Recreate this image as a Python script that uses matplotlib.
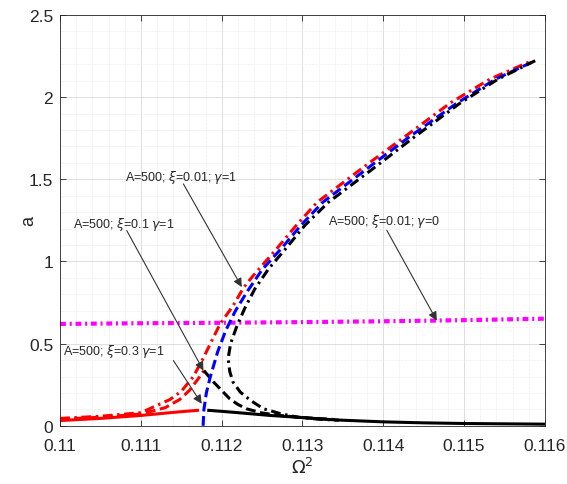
import numpy as np
import matplotlib
matplotlib.use('Agg')
import matplotlib.pyplot as plt
from matplotlib.ticker import MultipleLocator

plt.rcParams['font.family'] = ['Liberation Sans', 'DejaVu Sans']
plt.rcParams['mathtext.fontset'] = 'dejavusans'

# --- curves (Omega^2, a) ---
# xi=0.01, gamma=1 : left (rising) side, red dash-dot
red01_x = [0.1100, 0.1105, 0.1110, 0.11136, 0.1115, 0.11165, 0.11177, 0.11198, 0.11214, 0.11227,
           0.11239, 0.11268, 0.11292, 0.11318, 0.11378, 0.11424, 0.11483, 0.11532, 0.11584]
red01_y = [0.045, 0.058, 0.080, 0.160, 0.210, 0.300, 0.410, 0.620, 0.730, 0.840,
           0.914, 1.077, 1.218, 1.360, 1.583, 1.750, 1.965, 2.110, 2.222]

# backbone, blue dashed
blue_x = [0.11177, 0.11178, 0.11181, 0.11186, 0.11195, 0.11205, 0.11217, 0.11232, 0.11250,
          0.11274, 0.11298, 0.11325, 0.11384, 0.11430, 0.11490, 0.11539, 0.11588]
blue_y = [0.0, 0.10, 0.20, 0.30, 0.45, 0.58, 0.70, 0.82, 0.95,
          1.08, 1.22, 1.36, 1.58, 1.75, 1.96, 2.11, 2.222]

# xi=0.01, gamma=1 : right side incl. unstable branch, black dash-dot
blk01_x = [0.11588, 0.11542, 0.11494, 0.11435, 0.11390, 0.11332, 0.11303, 0.11279, 0.11258,
           0.11241, 0.11229, 0.11219, 0.11211, 0.11208, 0.11210, 0.11214, 0.11223, 0.11237,
           0.11252, 0.11272, 0.11293, 0.11320, 0.11345]
blk01_y = [2.222, 2.110, 1.960, 1.745, 1.575, 1.360, 1.220, 1.077, 0.955,
           0.833, 0.720, 0.610, 0.500, 0.410, 0.330, 0.266, 0.205, 0.150,
           0.103, 0.075, 0.053, 0.040, 0.034]

# xi=0.1, gamma=1 : red dashed (rising) and black dashed (falling)
red1_x = [0.1100, 0.1105, 0.1110, 0.1113, 0.11148, 0.11160, 0.11170, 0.11178]
red1_y = [0.040, 0.052, 0.072, 0.110, 0.160, 0.215, 0.280, 0.336]
blk1_x = [0.11178, 0.11190, 0.11200, 0.11210, 0.11220, 0.11231, 0.11250, 0.11272, 0.11300, 0.11340]
blk1_y = [0.336, 0.266, 0.215, 0.164, 0.130, 0.103, 0.078, 0.063, 0.050, 0.038]

# xi=0.3, gamma=1 : red solid (rising) and black solid (falling)
red3_x = [0.1100, 0.1105, 0.1110, 0.1113, 0.1115, 0.11170]
red3_y = [0.032, 0.045, 0.063, 0.077, 0.086, 0.094]
blk3_x = [0.11184, 0.1120, 0.1122, 0.1126, 0.1130, 0.1134, 0.1140, 0.1145, 0.1150, 0.1155, 0.1160]
blk3_y = [0.094, 0.088, 0.080, 0.063, 0.050, 0.036, 0.024, 0.018, 0.014, 0.012, 0.010]

# xi=0.01, gamma=0 : magenta
mag_x = [0.1100, 0.1110, 0.1120, 0.1130, 0.1140, 0.1150, 0.1160]
mag_y = [0.620, 0.624, 0.627, 0.631, 0.636, 0.643, 0.652]

fig = plt.figure(figsize=(5.67, 4.85), dpi=100)
ax = fig.add_axes([0.106, 0.120, 0.855, 0.847])

lw = 2.2
dd = (3.2, 1.5, 0.8, 1.5)
da = (3.2, 1.5)
ax.plot(red3_x, red3_y, color='r', lw=lw)
ax.plot(blk3_x, blk3_y, color='k', lw=lw)
ax.plot(red1_x, red1_y, color='r', lw=lw, dashes=da)
ax.plot(blk1_x, blk1_y, color='k', lw=lw, dashes=da)
ax.plot(mag_x, mag_y, color='#ff00ff', lw=3, dashes=(1.4, 0.9, 0.5, 0.9))
ax.plot(red01_x, red01_y, color='r', lw=lw, dashes=dd)
ax.plot(blue_x, blue_y, color='b', lw=lw, dashes=da)
ax.plot(blk01_x, blk01_y, color='k', lw=lw, dashes=dd)

# annotations
arr = dict(arrowstyle='-|>', color='0.2', lw=0.8, mutation_scale=13, shrinkA=0, shrinkB=0)
fs = 9
ax.text(0.11080, 1.515, r'A=500; $\xi$=0.01; $\gamma$=1', fontsize=fs, color='0.15', va='center')
ax.annotate('', xy=(0.112249, 0.844), xytext=(0.111526, 1.472), arrowprops=arr)
ax.text(0.11016, 1.229, r'A=500; $\xi$=0.1 $\gamma$=1', fontsize=fs, color='0.15', va='center')
ax.annotate('', xy=(0.111774, 0.336), xytext=(0.110825, 1.188), arrowprops=arr)
ax.text(0.11004, 0.458, r'A=500; $\xi$=0.3 $\gamma$=1', fontsize=fs, color='0.15', va='center')
ax.annotate('', xy=(0.111753, 0.134), xytext=(0.111402, 0.397), arrowprops=arr)
ax.text(0.11332, 1.249, r'A=500; $\xi$=0.01; $\gamma$=0', fontsize=fs, color='0.15', va='center')
ax.annotate('', xy=(0.114662, 0.640), xytext=(0.114043, 1.190), arrowprops=arr)

ax.set_xlim(0.110, 0.116)
ax.set_ylim(0, 2.5)
ax.xaxis.set_major_locator(MultipleLocator(0.001))
ax.xaxis.set_minor_locator(MultipleLocator(0.0002))
ax.yaxis.set_major_locator(MultipleLocator(0.5))
ax.yaxis.set_minor_locator(MultipleLocator(0.1))
ax.xaxis.set_major_formatter(plt.FuncFormatter(lambda v, p: ('%.3f' % v).rstrip('0')))
ax.yaxis.set_major_formatter(plt.FuncFormatter(lambda v, p: ('%g' % v)))
ax.grid(True, which='major', color='0.85', lw=0.6)
ax.grid(True, which='minor', color='0.9', lw=0.5, linestyle=(0, (1, 1)))
ax.set_axisbelow(True)
ax.tick_params(which='major', direction='in', length=4, top=True, right=True,
               labelsize=12.5, colors='0.15', width=0.6)
ax.tick_params(axis='x', which='major', pad=9)
ax.tick_params(axis='y', which='major', pad=5)
ax.tick_params(which='minor', length=0)
for s in ax.spines.values():
    s.set_color('0.15')
    s.set_linewidth(0.6)
ax.set_xlabel(r'$\Omega^2$', fontsize=13, color='0.15')
ax.set_ylabel('a', fontsize=13, color='0.15')
ax.xaxis.set_label_coords(0.5, -0.075)
ax.yaxis.set_label_coords(-0.047, 0.5)

fig.savefig('out.png', dpi=100)
